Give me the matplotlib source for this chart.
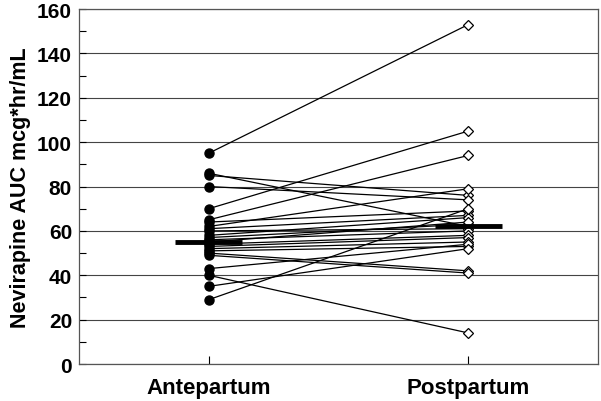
import numpy as np
import matplotlib
matplotlib.use("Agg")
import matplotlib.pyplot as plt
from matplotlib.ticker import MultipleLocator

plt.rcParams['font.family'] = ['Liberation Sans', 'DejaVu Sans']

# paired AUC values, one entry per subject
groups = ['Antepartum', 'Postpartum']
antepartum = [95, 86, 85, 80, 70, 65, 64, 62, 61, 60, 58, 57, 56, 55, 54, 53, 52, 51, 50, 49, 43, 40, 35, 29]
postpartum = [153, 62, 76, 74, 105, 94, 69, 79, 67, 61, 66, 63, 60, 64, 58, 57, 55, 53, 42, 41, 54, 14, 52, 70]
medians = [55, 62]
y_ticks = [0, 20, 40, 60, 80, 100, 120, 140, 160]

fig = plt.figure(figsize=(6.01, 4.02), dpi=100)
ax = fig.add_axes([0.1314, 0.092, 0.8636, 0.883])

for a, p in zip(antepartum, postpartum):
    ax.plot([1, 2], [a, p], color='black', lw=0.9, zorder=2)

ax.plot([1] * len(antepartum), antepartum, 'o', color='black', ms=6.5, zorder=3)
ax.plot([2] * len(postpartum), postpartum, 'D', mfc='white', mec='black', mew=0.9, ms=5, zorder=3)

for x, m in zip([1, 2], medians):
    ax.plot([x - 0.13, x + 0.13], [m, m], color='black', lw=3.5, solid_capstyle='butt', zorder=4)

ax.set_xlim(0.5, 2.5)
ax.set_ylim(0, 160)
ax.set_yticks(y_ticks)
ax.yaxis.set_minor_locator(MultipleLocator(10))
ax.set_xticks([1, 2])
ax.set_xticklabels(groups, fontsize=16, fontweight='bold')
ax.tick_params(axis='y', which='both', direction='in', labelsize=15, length=5, width=0.8, pad=5)
ax.tick_params(axis='x', direction='in', length=6, width=0.8, pad=9)
for lab in ax.get_yticklabels():
    lab.set_fontweight('bold')
ax.grid(axis='y', color='#444444', lw=0.8, zorder=0)
ax.set_axisbelow(True)
for s in ax.spines.values():
    s.set_color('#555555')
    s.set_linewidth(0.9)
ax.set_ylabel('Nevirapine AUC mcg*hr/mL', fontsize=15.5, fontweight='bold', labelpad=4)

fig.savefig('out.png', dpi=100)
